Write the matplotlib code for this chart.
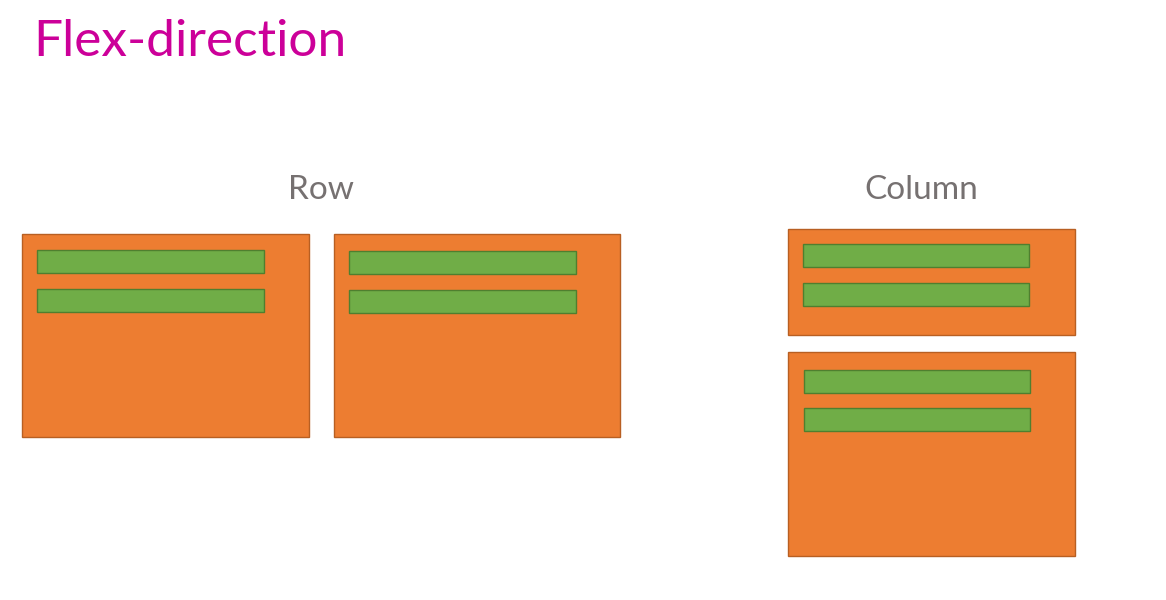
import matplotlib
matplotlib.use("Agg")
import matplotlib.pyplot as plt
from matplotlib.patches import Rectangle

# Diagram content
title = "Flex-direction"
group_labels = ["Row", "Column"]
group_label_x = [321, 921]
group_label_y = [199, 199]

# Outer (orange) containers: x, y, width, height (pixel space, y downward)
box_x = [22, 334, 788, 788]
box_y = [234, 234, 229, 352]
box_w = [287, 286, 287, 287]
box_h = [203, 203, 106, 204]

# Inner (green) items
item_x = [37, 37, 349, 349, 803, 803, 804, 804]
item_y = [250, 289, 251, 290, 244, 283, 370, 408]
item_w = [227, 227, 227, 227, 226, 226, 226, 226]
item_h = [23, 23, 23, 23, 23, 23, 23, 23]

ORANGE = "#ED7D31"
ORANGE_EDGE = "#B85F22"
GREEN = "#70AD47"
GREEN_EDGE = "#4F7F2F"
TITLE_COLOR = "#CC0099"
LABEL_COLOR = "#767171"

fig = plt.figure(figsize=(11.66, 6.0), dpi=100)
ax = fig.add_axes([0, 0, 1, 1])
ax.set_xlim(0, 1166)
ax.set_ylim(600, 0)
ax.axis("off")

for x, y, w, h in zip(box_x, box_y, box_w, box_h):
    ax.add_patch(Rectangle((x, y), w, h, facecolor=ORANGE, edgecolor=ORANGE_EDGE, linewidth=1.0))
for x, y, w, h in zip(item_x, item_y, item_w, item_h):
    ax.add_patch(Rectangle((x, y), w, h, facecolor=GREEN, edgecolor=GREEN_EDGE, linewidth=1.0))

ax.text(33, 56, title, fontsize=37, color=TITLE_COLOR, family=["Lato", "DejaVu Sans"],
        fontweight="normal", ha="left", va="baseline")
for lab, x, y in zip(group_labels, group_label_x, group_label_y):
    ax.text(x, y, lab, fontsize=24, color=LABEL_COLOR, family=["Lato", "DejaVu Sans"],
            ha="center", va="baseline")

fig.savefig("out.png", dpi=100)
